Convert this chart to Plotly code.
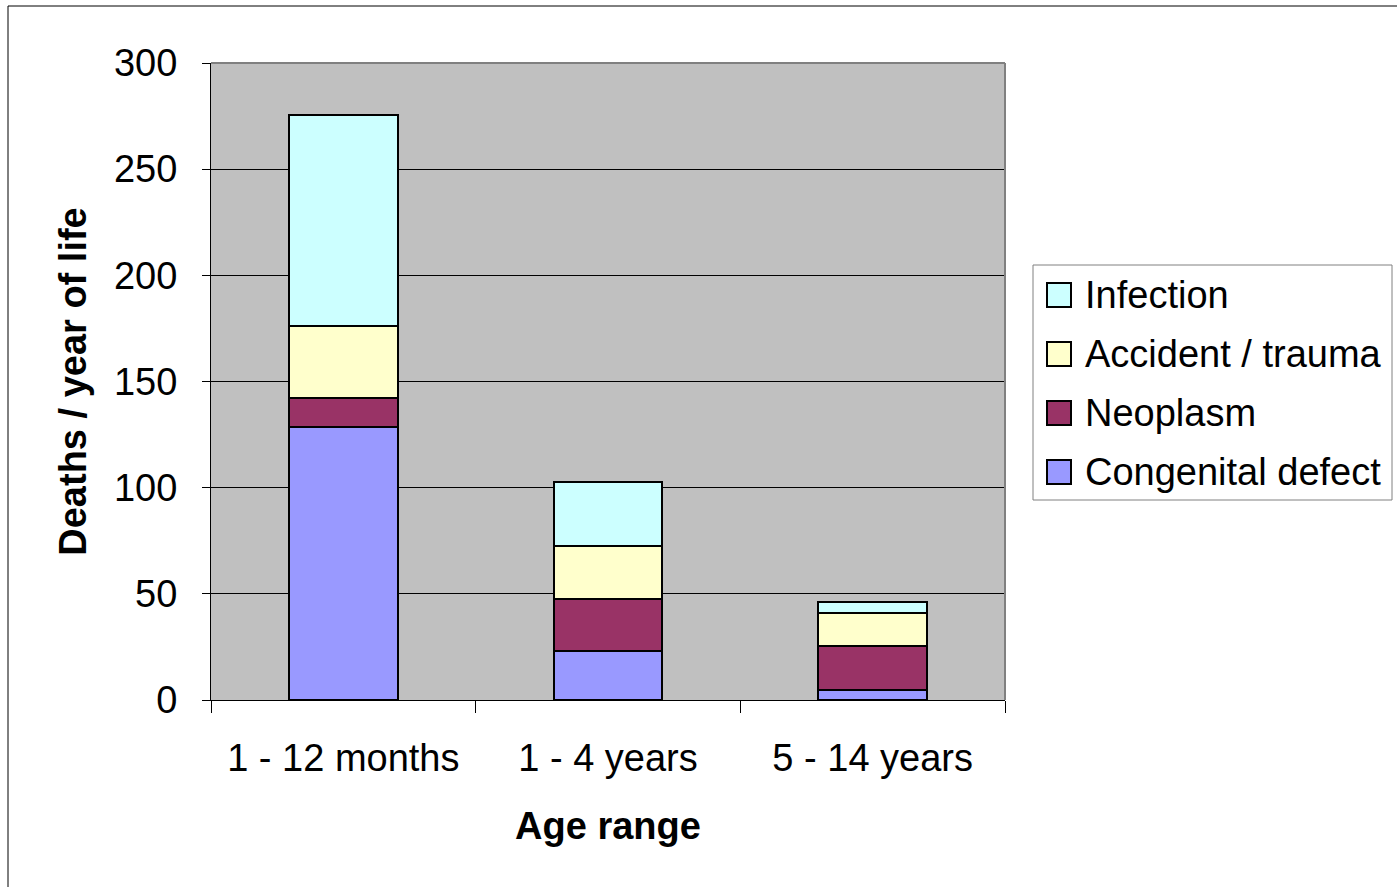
import plotly.graph_objects as go

categories = ["1 - 12 months", "1 - 4 years", "5 - 14 years"]
congenital = [128.5, 23.0, 4.7]
neoplasm = [13.7, 24.5, 20.7]
accident = [34.0, 25.0, 15.6]
infection = [99.5, 30.0, 5.2]

series = [
    ("Congenital defect", congenital, "#9999FF"),
    ("Neoplasm", neoplasm, "#993366"),
    ("Accident / trauma", accident, "#FFFFCC"),
    ("Infection", infection, "#CCFFFF"),
]

FONT = "Arial, Liberation Sans, sans-serif"
FS = 38
fig = go.Figure()
for name, vals, col in series:
    fig.add_trace(go.Bar(
        x=categories, y=vals, name=name, showlegend=False,
        marker=dict(color=col, line=dict(color="black", width=2)),
    ))

W, H = 1397, 887
L, R, T, B = 211, 392, 63, 187
pw, ph = W - L - R, H - T - B

def px_x(x):
    return (x - L) / pw

def px_y(y):
    return (H - B - y) / ph

shapes = [
    dict(type="line", xref="paper", yref="paper", x0=0, x1=1, y0=1, y1=1,
         line=dict(color="#808080", width=2), layer="above"),
    dict(type="line", xref="paper", yref="paper", x0=1, x1=1, y0=0, y1=1,
         line=dict(color="#808080", width=2), layer="above"),
    dict(type="rect", xref="paper", yref="paper",
         x0=px_x(8), x1=px_x(1420), y0=px_y(900), y1=px_y(6),
         line=dict(color="black", width=1)),
    # legend box
    dict(type="rect", xref="paper", yref="paper",
         x0=px_x(1033), x1=px_x(1392), y0=px_y(500), y1=px_y(265),
         line=dict(color="#808080", width=1), fillcolor="white"),
]
annotations = []
row_y = [295, 354, 413, 472]
for (name, vals, col), yc in zip(reversed(series), row_y):
    shapes.append(dict(type="rect", xref="paper", yref="paper",
                       x0=px_x(1047), x1=px_x(1071),
                       y0=px_y(yc + 12), y1=px_y(yc - 12),
                       line=dict(color="black", width=2), fillcolor=col))
    annotations.append(dict(xref="paper", yref="paper", x=px_x(1083), y=px_y(yc),
                            xanchor="left", yanchor="middle", text=name,
                            showarrow=False, font=dict(family=FONT, size=FS, color="black")))

fig.update_layout(
    width=W, height=H,
    margin=dict(l=L, r=R, t=T, b=B, autoexpand=False),
    barmode="stack", bargap=0.59,
    paper_bgcolor="white", plot_bgcolor="#C0C0C0",
    font=dict(family=FONT, size=FS, color="black"),
    showlegend=False,
    xaxis=dict(
        showline=True, linecolor="black", linewidth=1,
        ticks="outside", tickson="boundaries", ticklen=12, tickcolor="black",
        showgrid=False, ticklabelstandoff=24,
        title=dict(text="<b>Age range</b>", standoff=34, font=dict(size=FS)),
        tickfont=dict(size=FS),
    ),
    yaxis=dict(
        range=[0, 300], dtick=50, showline=True, linecolor="black", linewidth=1,
        ticks="outside", ticklen=8, tickcolor="black", ticklabelstandoff=17,
        showgrid=True, gridcolor="black", gridwidth=1, zeroline=False,
        title=dict(text="<b>Deaths / year of life</b>", standoff=15, font=dict(size=FS)),
        tickfont=dict(size=FS),
    ),
    shapes=shapes,
    annotations=annotations,
)

fig.write_html("out.html")
